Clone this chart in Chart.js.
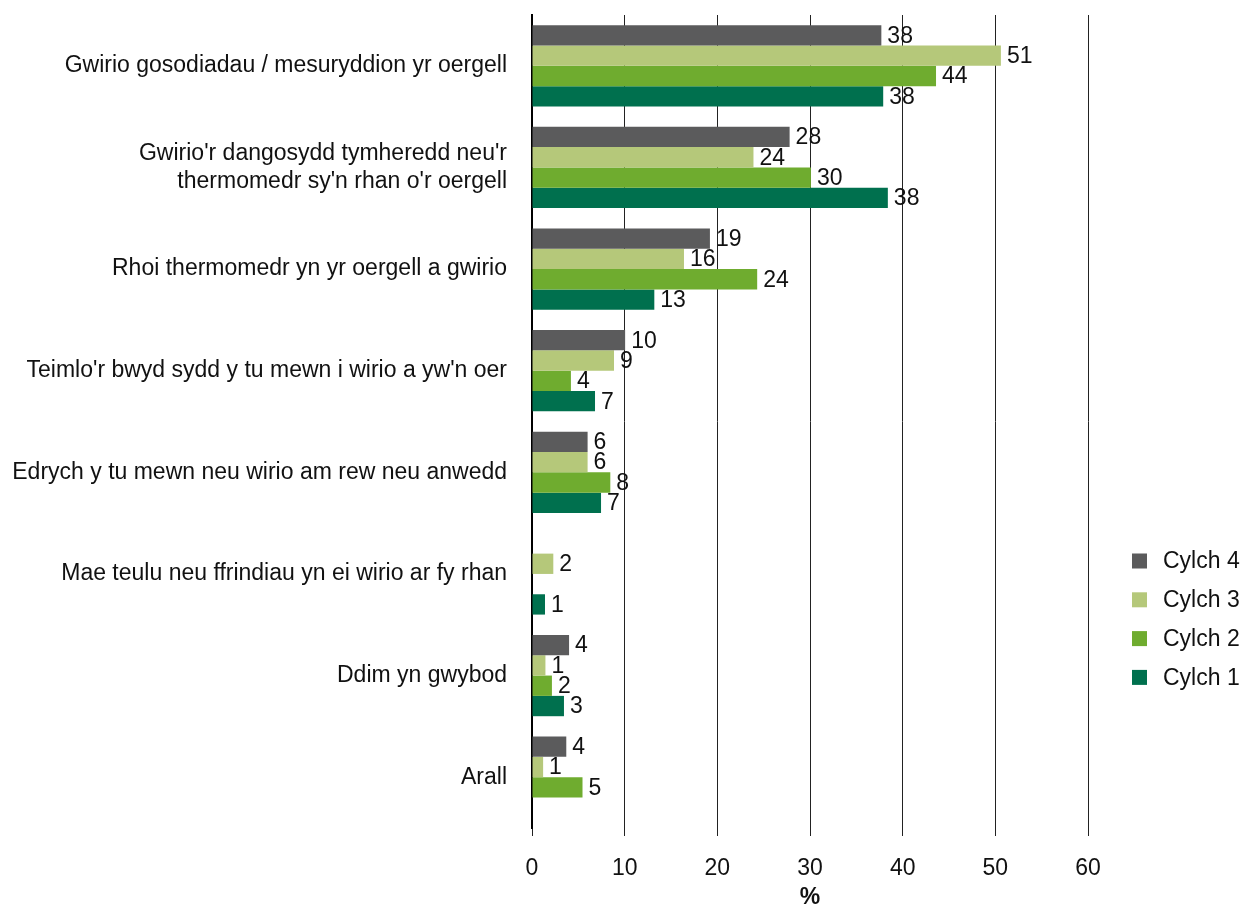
<!DOCTYPE html>
<html>
<head>
<meta charset="utf-8">
<script src="https://cdn.jsdelivr.net/npm/chart.js@4/dist/chart.umd.min.js"></script>
<style>
html,body{margin:0;padding:0;background:#fff;}
#wrap{width:1245px;height:911px;position:relative;}
</style>
</head>
<body>
<div id="wrap"><canvas id="c" width="1245" height="911"></canvas></div>
<script>
const categories = [
  "Gwirio gosodiadau / mesuryddion yr oergell",
  ["Gwirio'r dangosydd tymheredd neu'r", "thermomedr sy'n rhan o'r oergell"],
  "Rhoi thermomedr yn yr oergell a gwirio",
  "Teimlo'r bwyd sydd y tu mewn i wirio a yw'n oer",
  "Edrych y tu mewn neu wirio am rew neu anwedd",
  "Mae teulu neu ffrindiau yn ei wirio ar fy rhan",
  "Ddim yn gwybod",
  "Arall"
];
const seriesNames = ["Cylch 4", "Cylch 3", "Cylch 2", "Cylch 1"];
const cylch4 = [37.7, 27.8, 19.2, 10.05, 6.0, null, 4.0, 3.7];
const cylch3 = [50.6, 23.9, 16.4, 8.85, 6.0, 2.3, 1.45, 1.2];
const cylch2 = [43.6, 30.1, 24.3, 4.2, 8.45, null, 2.15, 5.45];
const cylch1 = [37.9, 38.4, 13.2, 6.8, 7.45, 1.4, 3.45, null];
const xTicks = [0, 10, 20, 30, 40, 50, 60];
const colors = ["#5b5b5c", "#b5c87a", "#6fac2f", "#00704e"];

const FONT = "'Liberation Sans', Arial, sans-serif";
const FS = 23;

const valueLabels = {
  id: 'valueLabels',
  afterDatasetsDraw(chart) {
    const ctx = chart.ctx;
    ctx.save();
    ctx.font = FS + "px " + FONT;
    ctx.fillStyle = "#111";
    ctx.textAlign = "left";
    ctx.textBaseline = "middle";
    chart.data.datasets.forEach((ds, i) => {
      const meta = chart.getDatasetMeta(i);
      meta.data.forEach((bar, j) => {
        const v = ds.data[j];
        if (v === null || v === undefined) return;
        ctx.fillText(String(Math.round(v)), bar.x + 6, bar.y + 1);
      });
    });
    ctx.restore();
  }
};

const customLegend = {
  id: 'customLegend',
  afterDraw(chart) {
    const ctx = chart.ctx;
    ctx.save();
    ctx.font = FS + "px " + FONT;
    ctx.textBaseline = "middle";
    ctx.textAlign = "left";
    const startY = 561, step = 38.8;
    chart.data.datasets.forEach((ds, i) => {
      const y = startY + i * step;
      ctx.fillStyle = ds.backgroundColor;
      ctx.fillRect(1132, y - 7.5, 15, 15);
      ctx.fillStyle = "#111";
      ctx.fillText(ds.label, 1163, y + 1);
    });
    ctx.restore();
  }
};

const seriesData = [cylch4, cylch3, cylch2, cylch1];

new Chart(document.getElementById('c'), {
  type: 'bar',
  data: {
    labels: categories,
    datasets: seriesNames.map((n, i) => ({
      label: n,
      data: seriesData[i],
      backgroundColor: colors[i],
      borderWidth: 0,
      categoryPercentage: 0.8,
      barPercentage: 1.0
    }))
  },
  options: {
    indexAxis: 'y',
    responsive: false,
    animation: false,
    devicePixelRatio: 1,
    layout: { autoPadding: false, padding: { top: 15, right: 157, bottom: 0, left: 0 } },
    plugins: {
      legend: { display: false },
      tooltip: { enabled: false }
    },
    scales: {
      x: {
        min: 0, max: 60,
        afterBuildTicks(scale) { scale.ticks = xTicks.map(v => ({ value: v })); },
        grid: { color: "#222", lineWidth: 1, drawTicks: true, tickLength: 8, tickColor: "#222" },
        border: { display: false },
        ticks: { color: "#111", font: { family: FONT, size: FS }, padding: 19, maxRotation: 0 },
        title: { display: true, text: "%", color: "#111", font: { family: FONT, size: FS, weight: 'bold' }, padding: { top: 4, bottom: 0 } },
        afterFit(scale) { scale.height = 83; scale.paddingLeft = 0; scale.paddingRight = 0; }
      },
      y: {
        grid: { display: false, drawTicks: false },
        border: { display: true, color: "#000", width: 2 },
        ticks: { color: "#111", font: { family: FONT, size: FS }, padding: 25, crossAlign: 'near' },
        afterFit(scale) { scale.width = 532; scale.paddingTop = 0; scale.paddingBottom = 0; }
      }
    }
  },
  plugins: [valueLabels, customLegend]
});
</script>
</body>
</html>
